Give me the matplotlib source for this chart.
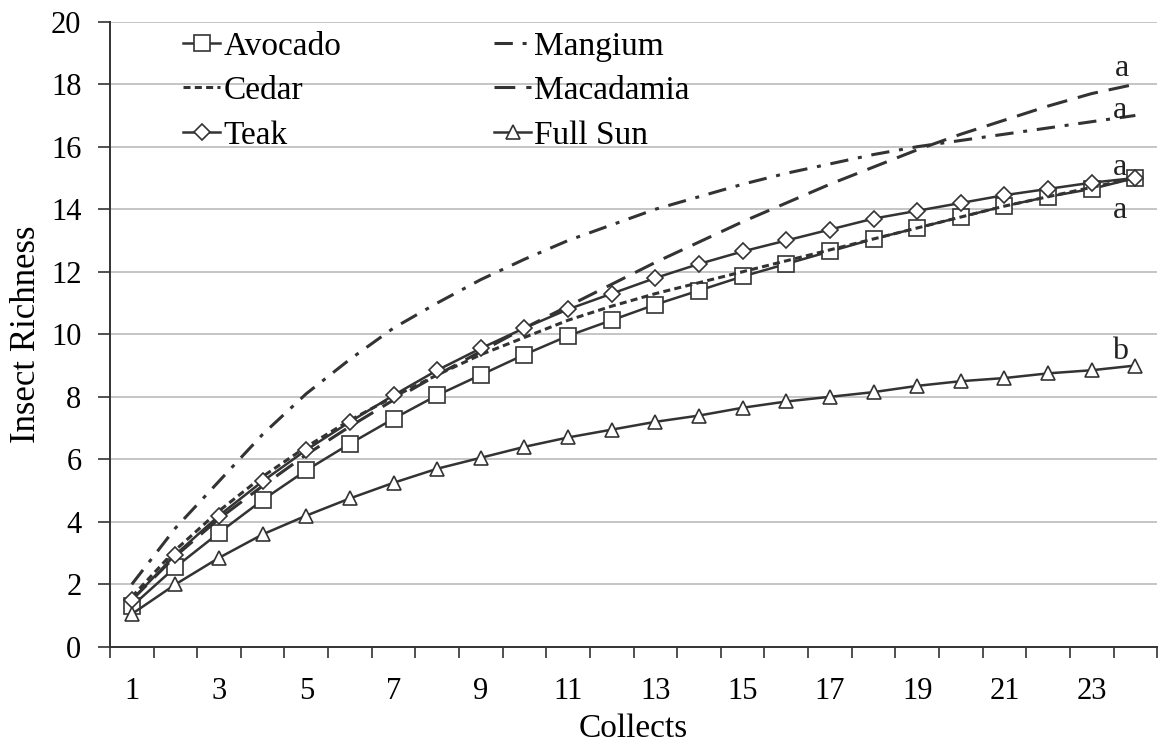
import matplotlib.pyplot as plt
from matplotlib.ticker import FixedLocator

plt.rcParams['font.family'] = ['Liberation Serif', 'DejaVu Serif']

collects = list(range(1, 25))
avocado = [1.3, 2.55, 3.65, 4.7, 5.65, 6.5, 7.3, 8.05, 8.7, 9.35, 9.95, 10.45,
           10.95, 11.4, 11.85, 12.25, 12.65, 13.05, 13.4, 13.75, 14.1, 14.4, 14.65, 15.0]
cedar = [1.6, 3.1, 4.35, 5.45, 6.4, 7.25, 8.0, 8.7, 9.35, 9.9, 10.45, 10.9,
         11.3, 11.65, 12.0, 12.35, 12.7, 13.05, 13.4, 13.75, 14.1, 14.4, 14.7, 15.0]
teak = [1.5, 2.95, 4.2, 5.3, 6.3, 7.2, 8.05, 8.85, 9.55, 10.2, 10.8, 11.3,
        11.8, 12.25, 12.65, 13.0, 13.35, 13.7, 13.95, 14.2, 14.45, 14.65, 14.85, 15.0]
mangium = [2.0, 3.8, 5.3, 6.8, 8.1, 9.2, 10.2, 11.0, 11.75, 12.4, 13.0, 13.5,
           14.0, 14.4, 14.8, 15.15, 15.45, 15.75, 16.0, 16.2, 16.4, 16.6, 16.8, 17.0]
macadamia = [1.5, 2.9, 4.1, 5.15, 6.15, 7.05, 7.9, 8.7, 9.45, 10.2, 10.9, 11.6,
             12.3, 12.95, 13.6, 14.2, 14.8, 15.35, 15.9, 16.4, 16.85, 17.3, 17.7, 18.0]
full_sun = [1.05, 2.0, 2.85, 3.6, 4.2, 4.75, 5.25, 5.7, 6.05, 6.4, 6.7, 6.95,
            7.2, 7.4, 7.65, 7.85, 8.0, 8.15, 8.35, 8.5, 8.6, 8.75, 8.85, 9.0]

# significance letters next to the curve ends
letters = ['a', 'a', 'a', 'a', 'b']
letter_y = [18.5, 17.15, 15.35, 13.95, 9.45]
letter_x = [23.7, 23.65, 23.65, 23.65, 23.65]

ink = '#333333'
fig = plt.figure(figsize=(11.61, 7.47), dpi=100)
ax = fig.add_axes([0.0947, 0.134, 0.902, 0.837])

h_avo, = ax.plot(collects, avocado, color=ink, lw=1.8, marker='s', ms=12, mfc='white',
                 mec=ink, mew=1.2, label='Avocado')
h_man, = ax.plot(collects, mangium, color=ink, lw=2.2, dashes=(6, 3.2, 1.3, 3.2), label='Mangium')
h_ced, = ax.plot(collects, cedar, color=ink, lw=2.2, dashes=(2.3, 1.4), label='Cedar')
h_mac, = ax.plot(collects, macadamia, color=ink, lw=2.2, dashes=(6.8, 3.6), label='Macadamia')
h_tea, = ax.plot(collects, teak, color=ink, lw=1.8, marker='D', ms=8, mfc='white',
                 mec=ink, mew=1.2, label='Teak')
h_sun, = ax.plot(collects, full_sun, color=ink, lw=1.8, marker='^', ms=10, mfc='white',
                 mec=ink, mew=1.2, label='Full Sun')

for t, xx, yy in zip(letters, letter_x, letter_y):
    ax.text(xx, yy, t, fontsize=23, ha='center', va='center', color='#222222')

ax.set_xlim(0.5, 24.5)
ax.set_ylim(0, 20)
ax.set_yticks(range(0, 21, 2))
ax.set_xticks(range(1, 24, 2))
ax.xaxis.set_minor_locator(FixedLocator([i + 0.5 for i in range(0, 25)]))
ax.tick_params(axis='x', which='major', length=0, pad=22, labelsize=22)
ax.tick_params(axis='x', which='minor', length=8, width=1.2, color=ink, direction='out')
ax.tick_params(axis='y', length=8.5, width=1.2, color=ink, labelsize=22, pad=12)
ax.yaxis.grid(True, color='#bbbbbb', lw=1.2)
ax.set_axisbelow(True)
for s in ['top', 'right']:
    ax.spines[s].set_visible(False)
for s in ['left', 'bottom']:
    ax.spines[s].set_color(ink)
    ax.spines[s].set_linewidth(1.4)

ax.set_xlabel('Collects', fontsize=24, labelpad=5)
ax.set_ylabel('Insect Richness', fontsize=25, labelpad=6)

ax.legend([h_avo, h_ced, h_tea, h_man, h_mac, h_sun],
          ['Avocado', 'Cedar', 'Teak', 'Mangium', 'Macadamia', 'Full Sun'],
          loc='upper left', bbox_to_anchor=(0.07, 0.985), ncol=2, frameon=False,
          fontsize=24, handlelength=1.1, handletextpad=0.1, columnspacing=4.6,
          labelspacing=0.42, borderaxespad=0, borderpad=0)

fig.savefig('out.png', dpi=100)
